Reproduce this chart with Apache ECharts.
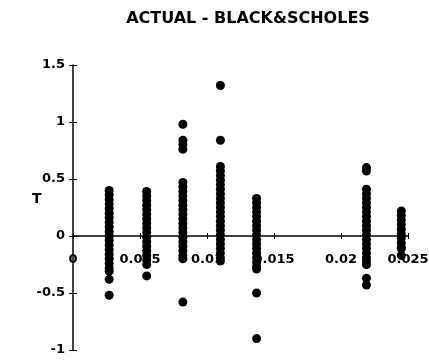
<!DOCTYPE html>
<html>
<head>
<meta charset="utf-8">
<script src="https://cdn.jsdelivr.net/npm/echarts@6/dist/echarts.min.js"></script>
<style>
  html, body { margin: 0; padding: 0; background: #fff; }
  #chart { width: 429px; height: 362px; }
</style>
</head>
<body>
<div id="chart"></div>
<script>
// ACTUAL - BLACK&SCHOLES scatter

const xTicks = [0, 0.005, 0.01, 0.015, 0.02, 0.025];
const yTicks = [-1, -0.5, 0, 0.5, 1, 1.5];

// x position of each column of points
const columnX = [0.0027, 0.0055, 0.0082, 0.0110, 0.0137, 0.0219, 0.0245];

// T values in each column (top to bottom)
const col1 = [0.40, 0.36, 0.32, 0.28, 0.24, 0.20, 0.16, 0.12, 0.08, 0.04, 0.00, -0.04, -0.08,
  -0.12, -0.16, -0.20, -0.24, -0.28, -0.31, -0.38, -0.52];
const col2 = [0.39, 0.35, 0.31, 0.27, 0.23, 0.19, 0.15, 0.11, 0.07, 0.03, -0.01, -0.05, -0.09,
  -0.13, -0.17, -0.21, -0.25, -0.35];
const col3 = [0.98, 0.84, 0.80, 0.76, 0.47, 0.43, 0.39, 0.35, 0.31, 0.27, 0.23, 0.19, 0.15,
  0.11, 0.07, 0.03, -0.01, -0.05, -0.09, -0.13, -0.17, -0.20, -0.58];
const col4 = [1.32, 0.84, 0.61, 0.57, 0.53, 0.49, 0.45, 0.41, 0.37, 0.33, 0.29, 0.25, 0.21,
  0.17, 0.13, 0.09, 0.05, 0.01, -0.03, -0.07, -0.11, -0.15, -0.19, -0.22];
const col5 = [0.33, 0.29, 0.25, 0.21, 0.17, 0.13, 0.09, 0.05, 0.01, -0.03, -0.07, -0.11,
  -0.15, -0.19, -0.23, -0.27, -0.29, -0.50, -0.90];
const col6 = [0.60, 0.57, 0.41, 0.37, 0.33, 0.29, 0.25, 0.21, 0.17, 0.13, 0.09, 0.05, 0.01,
  -0.03, -0.07, -0.11, -0.15, -0.19, -0.22, -0.25, -0.37, -0.43];
const col7 = [0.22, 0.18, 0.14, 0.10, 0.06, 0.02, -0.02, -0.06, -0.10, -0.11, -0.17];

const columns = [col1, col2, col3, col4, col5, col6, col7];

function buildPoints() {
  const pts = [];
  columns.forEach(function (col, i) {
    col.forEach(function (v) {
      pts.push([columnX[i], v]);
    });
  });
  return pts;
}

const FONT = 'DejaVu Sans';

// grid layout: plot from y=65 to y=350, so y=0 sits 114px above the bottom edge
const GRID_TOP = 65;
const GRID_BOTTOM = 12;
const ZERO_OFFSET = -114;

const chart = echarts.init(document.getElementById('chart'), null, { renderer: 'canvas' });

const option = {
  backgroundColor: '#ffffff',
  animation: false,
  title: {
    text: 'ACTUAL - BLACK&SCHOLES',
    left: 243,
    top: 6,
    textAlign: 'center',
    textStyle: { fontFamily: FONT, fontSize: 16, fontWeight: 'bold', color: '#000' }
  },
  graphic: [{
    type: 'text',
    left: 32,
    top: 192,
    style: { text: 'T', fontFamily: FONT, fontSize: 14, fontWeight: 'bold', fill: '#000' }
  }],
  grid: { left: 73, right: 21, top: GRID_TOP, bottom: GRID_BOTTOM, outerBoundsMode: 'none' },
  xAxis: [{
    type: 'value',
    min: xTicks[0],
    max: xTicks[xTicks.length - 1],
    interval: 0.005,
    position: 'bottom',
    offset: ZERO_OFFSET,
    axisLine: { onZero: false, lineStyle: { color: '#000', width: 1.5 } },
    axisTick: { show: true, length: 3, lineStyle: { color: '#000' } },
    axisLabel: {
      margin: 17,
      color: '#000',
      fontFamily: FONT,
      fontSize: 13,
      fontWeight: 'bold',
      formatter: function (v) { return String(+v.toFixed(3)); }
    },
    splitLine: { show: false }
  }, {
    type: 'value',
    min: xTicks[0],
    max: xTicks[xTicks.length - 1],
    interval: 0.005,
    position: 'bottom',
    offset: ZERO_OFFSET,
    axisLine: { show: false, onZero: false },
    axisTick: { show: true, inside: true, length: 3, lineStyle: { color: '#000' } },
    axisLabel: { show: false },
    splitLine: { show: false }
  }],
  yAxis: [{
    type: 'value',
    min: yTicks[0],
    max: yTicks[yTicks.length - 1],
    interval: 0.5,
    position: 'left',
    axisLine: { show: true, onZero: false, lineStyle: { color: '#000', width: 1.5 } },
    axisTick: { show: true, length: 4, lineStyle: { color: '#000' } },
    axisLabel: {
      margin: 8,
      color: '#000',
      fontFamily: FONT,
      fontSize: 13,
      fontWeight: 'bold'
    },
    splitLine: { show: false }
  }, {
    type: 'value',
    min: yTicks[0],
    max: yTicks[yTicks.length - 1],
    interval: 0.5,
    position: 'left',
    axisLine: { show: false, onZero: false },
    axisTick: { show: true, inside: true, length: 4, lineStyle: { color: '#000' } },
    axisLabel: { show: false },
    splitLine: { show: false }
  }],
  series: [{
    type: 'scatter',
    xAxisIndex: 0,
    yAxisIndex: 0,
    symbol: 'circle',
    symbolSize: 9,
    itemStyle: { color: '#000', opacity: 1 },
    data: buildPoints()
  }]
};

chart.setOption(option);
</script>
</body>
</html>
